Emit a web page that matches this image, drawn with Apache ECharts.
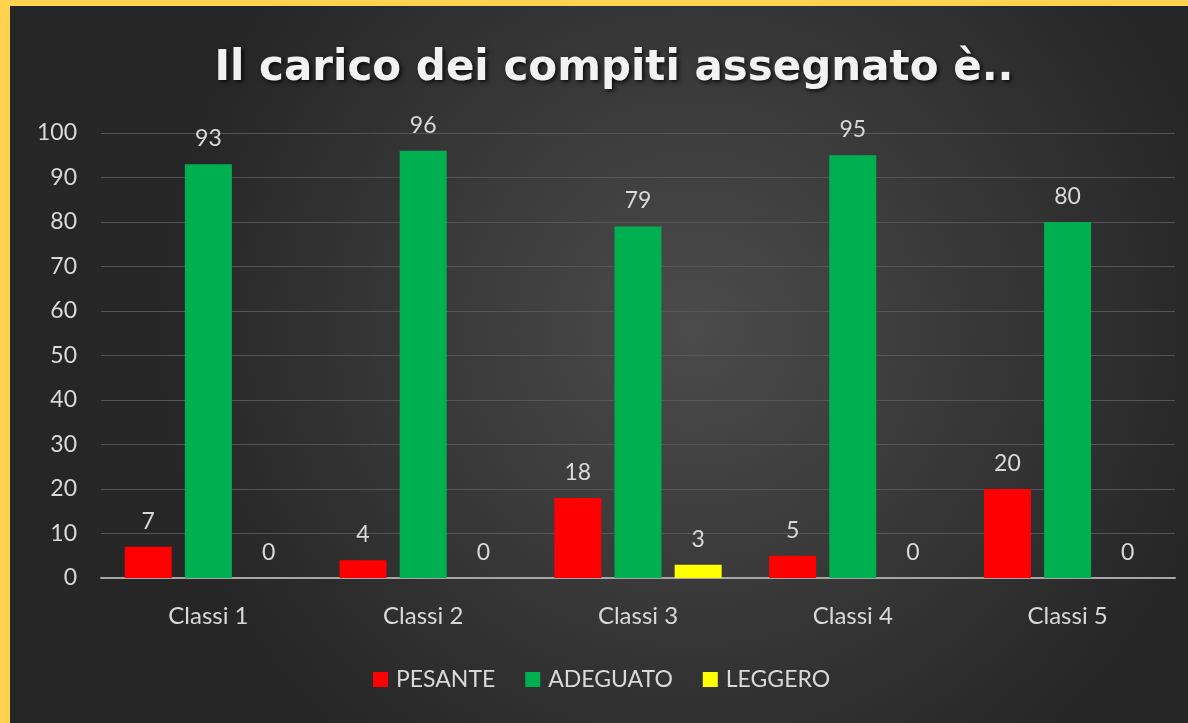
<!DOCTYPE html>
<html>
<head>
<meta charset="utf-8">
<script src="https://cdn.jsdelivr.net/npm/echarts@6/dist/echarts.min.js"></script>
<style>
html,body{margin:0;padding:0;width:1188px;height:723px;background:#FFD34F;overflow:hidden;}
#c{position:absolute;left:10px;top:6px;width:1178px;height:717px;}
</style>
</head>
<body>
<div id="c"></div>
<script>
const categories = ['Classi 1','Classi 2','Classi 3','Classi 4','Classi 5'];
const pesante = [7, 4, 18, 5, 20];
const adeguato = [93, 96, 79, 95, 80];
const leggero = [0, 0, 3, 0, 0];
const seriesNames = ['PESANTE','ADEGUATO','LEGGERO'];
const colors = ['#FF0000','#00B050','#FFFF00'];

const chart = echarts.init(document.getElementById('c'));
const labelStyle = {show:true, position:'top', distance:14, color:'#d9d9d9', fontSize:23, fontFamily:'Lato'};
const mk = (name, data, color) => ({
  name, type:'bar', data, barWidth:47, barGap:'28%',
  itemStyle:{color}, label:labelStyle
});
chart.setOption({
  backgroundColor:{type:'radial', x:0.58, y:0.45, r:0.75,
    colorStops:[{offset:0,color:'#4b4b4b'},{offset:1,color:'#262626'}]},
  title:{text:'Il carico dei compiti assegnato è..', left:599, textAlign:'center', top:37,
    textStyle:{color:'#f2f2f2', fontSize:42, fontWeight:'bold', fontFamily:'DejaVu Sans',
      textShadowColor:'rgba(0,0,0,0.8)', textShadowBlur:4, textShadowOffsetX:2, textShadowOffsetY:2}},
  legend:{data:seriesNames, top:657, left:358, itemWidth:15, itemHeight:15, itemGap:30,
    icon:'rect', textStyle:{color:'#d9d9d9', fontSize:23, fontFamily:'Lato', padding:[0,0,0,3]}},
  grid:{left:91, right:13, top:127, bottom:145, containLabel:false},
  xAxis:{type:'category', data:categories,
    axisLine:{lineStyle:{color:'#a6a6a6', width:2}}, axisTick:{show:false},
    axisLabel:{color:'#d9d9d9', fontSize:24, fontFamily:'Lato', margin:26}},
  yAxis:{type:'value', min:0, max:100, interval:10,
    axisLine:{show:false}, axisTick:{show:false},
    splitLine:{lineStyle:{color:'#555555', width:1}},
    axisLabel:{color:'#d9d9d9', fontSize:23, fontFamily:'Lato', margin:24}},
  series:[mk(seriesNames[0], pesante, colors[0]), mk(seriesNames[1], adeguato, colors[1]), mk(seriesNames[2], leggero, colors[2])]
});
</script>
</body>
</html>
